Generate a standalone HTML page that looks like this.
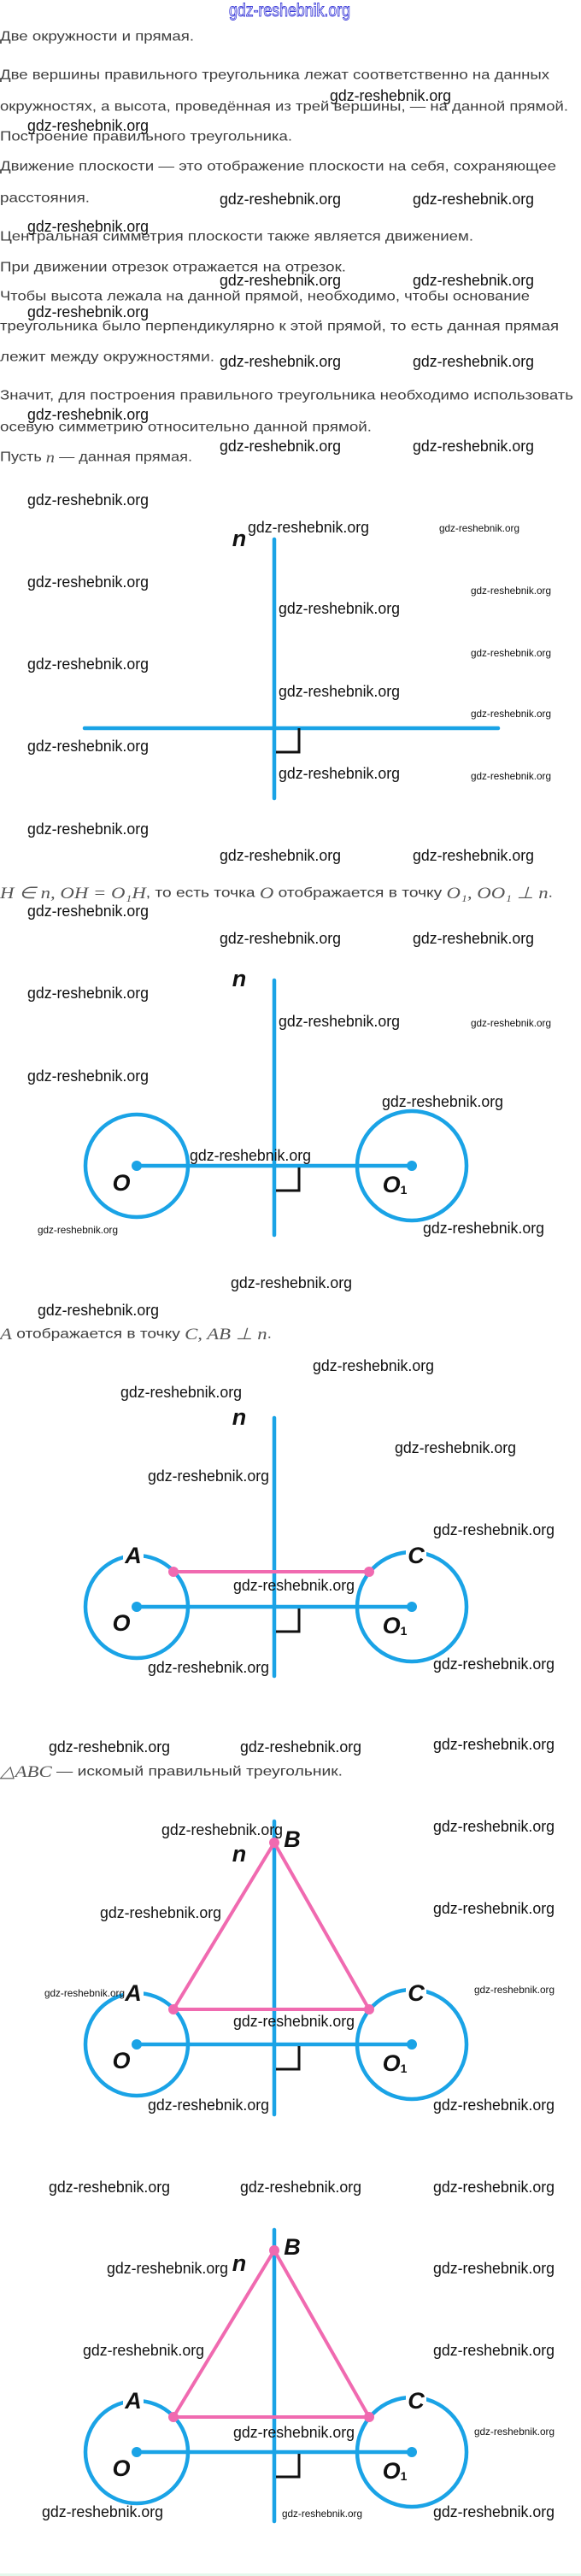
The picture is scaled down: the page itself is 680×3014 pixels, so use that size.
<!DOCTYPE html>
<html><head><meta charset="utf-8"><style>
html,body{margin:0;padding:0;background:#fff;}
svg{display:block;}
.t{font-family:"Liberation Sans","DejaVu Sans",sans-serif;font-size:16px;fill:#3d3d3d;}
.m{font-family:"Liberation Serif",serif;font-style:italic;fill:#555;}
.w{font-family:"Liberation Sans",sans-serif;font-size:18px;fill:#111;}
.ws{font-family:"Liberation Sans",sans-serif;font-size:12px;fill:#111;}
.lb{font-family:"Liberation Sans Narrow","Liberation Sans",sans-serif;font-weight:bold;font-style:italic;font-size:27px;fill:#111;}
.bl{stroke:#1aa3e6;stroke-width:4.5;fill:none;stroke-linecap:round;}
.pk{stroke:#f06ab0;stroke-width:4;fill:none;stroke-linecap:round;}
.ra{stroke:#111;stroke-width:3;fill:none;}
</style></head><body>
<svg width="680" height="3014" viewBox="0 0 680 3014" xmlns="http://www.w3.org/2000/svg">
<rect width="680" height="3014" fill="#fff"/>
<rect x="0" y="3011" width="680" height="3" fill="#e4f8ec"/>
<text x="268" y="19" font-family="Liberation Sans,sans-serif" font-size="21" fill="#fff" stroke="#3a3ad8" stroke-width="0.9" textLength="142" lengthAdjust="spacingAndGlyphs">gdz-reshebnik.org</text>

<g class="t" dominant-baseline="central">
<text x="0" y="43" textLength="227" lengthAdjust="spacingAndGlyphs">Две окружности и прямая.</text>
<text x="0" y="88" textLength="643" lengthAdjust="spacingAndGlyphs">Две вершины правильного треугольника лежат соответственно на данных</text>
<text x="0" y="125" textLength="665" lengthAdjust="spacingAndGlyphs">окружностях, а высота, проведённая из трей вершины, — на данной прямой.</text>
<text x="0" y="160" textLength="342" lengthAdjust="spacingAndGlyphs">Построение правильного треугольника.</text>
<text x="0" y="195" textLength="651" lengthAdjust="spacingAndGlyphs">Движение плоскости — это отображение плоскости на себя, сохраняющее</text>
<text x="0" y="232" textLength="105" lengthAdjust="spacingAndGlyphs">расстояния.</text>
<text x="0" y="277" textLength="554" lengthAdjust="spacingAndGlyphs">Центральная симметрия плоскости также является движением.</text>
<text x="0" y="313" textLength="405" lengthAdjust="spacingAndGlyphs">При движении отрезок отражается на отрезок.</text>
<text x="0" y="347" textLength="620" lengthAdjust="spacingAndGlyphs">Чтобы высота лежала на данной прямой, необходимо, чтобы основание</text>
<text x="0" y="382" textLength="654" lengthAdjust="spacingAndGlyphs">треугольника было перпендикулярно к этой прямой, то есть данная прямая</text>
<text x="0" y="418" textLength="251" lengthAdjust="spacingAndGlyphs">лежит между окружностями.</text>
<text x="0" y="463" textLength="671" lengthAdjust="spacingAndGlyphs">Значит, для построения правильного треугольника необходимо использовать</text>
<text x="0" y="500" textLength="435" lengthAdjust="spacingAndGlyphs">осевую симметрию относительно данной прямой.</text>
<text x="0" y="535" textLength="225" lengthAdjust="spacingAndGlyphs">Пусть <tspan class="m" font-size="18">n</tspan> — данная прямая.</text>
<text x="0" y="1045" textLength="647" lengthAdjust="spacingAndGlyphs"><tspan class="m" font-size="19">H ∈ n,  OH = O₁H</tspan>, то есть точка <tspan class="m" font-size="19">O</tspan> отображается в точку <tspan class="m" font-size="19">O₁, OO₁ ⊥ n</tspan>.</text>
<text x="0" y="1561" textLength="318" lengthAdjust="spacingAndGlyphs"><tspan class="m" font-size="19">A</tspan> отображается в точку <tspan class="m" font-size="19">C, AB ⊥ n</tspan>.</text>
<text x="0" y="2073" textLength="401" lengthAdjust="spacingAndGlyphs"><tspan class="m" font-size="19">△ABC</tspan> — искомый правильный треугольник.</text>
</g>

<!-- Figure 1 -->
<line class="bl" x1="321" y1="631" x2="321" y2="934"/>
<line class="bl" x1="99" y1="852" x2="583" y2="852"/>
<polyline class="ra" points="350,852 350,880 323,880"/>
<text class="lb" x="280" y="630" text-anchor="middle" dominant-baseline="central" font-family="Liberation Sans" font-size="26">n</text>

<!-- Figure 2 -->
<g>
<line class="bl" x1="321" y1="1147" x2="321" y2="1445"/>
<circle class="bl" cx="160" cy="1364" r="60"/>
<circle class="bl" cx="482" cy="1364" r="64"/>
<line class="bl" x1="160" y1="1364" x2="482" y2="1364"/>
<circle cx="160" cy="1364" r="6" fill="#1aa3e6"/><circle cx="482" cy="1364" r="6" fill="#1aa3e6"/>
<polyline class="ra" points="350,1366 350,1393 323,1393"/>
<text class="lb" x="280" y="1145" text-anchor="middle" dominant-baseline="central" font-family="Liberation Sans" font-size="26">n</text>
<text class="lb" x="142" y="1384" text-anchor="middle" dominant-baseline="central">O</text>
<text class="lb" x="462" y="1386" text-anchor="middle" dominant-baseline="central">O<tspan font-size="14" font-style="normal" dy="6">1</tspan></text>
</g>

<!-- Figures 3-5 -->
<g id="f3">
<line class="bl" x1="321" y1="1659" x2="321" y2="1961"/>
<circle class="bl" cx="160" cy="1880" r="60"/>
<circle class="bl" cx="482" cy="1880" r="64"/>
<line class="bl" x1="160" y1="1880" x2="482" y2="1880"/>
<circle cx="160" cy="1880" r="6" fill="#1aa3e6"/><circle cx="482" cy="1880" r="6" fill="#1aa3e6"/>
<polyline class="ra" points="350,1882 350,1909 323,1909"/>
<rect x="144" y="1806" width="24" height="28" fill="#fff"/>
<rect x="475" y="1806" width="24" height="28" fill="#fff"/>
<line class="pk" x1="203" y1="1839" x2="432" y2="1839"/>
<circle cx="203" cy="1839" r="6" fill="#f06ab0"/><circle cx="432" cy="1839" r="6" fill="#f06ab0"/>
<text class="lb" x="280" y="1658" text-anchor="middle" dominant-baseline="central" font-family="Liberation Sans" font-size="26">n</text>
<text class="lb" x="156" y="1820" text-anchor="middle" dominant-baseline="central">A</text>
<text class="lb" x="487" y="1820" text-anchor="middle" dominant-baseline="central">C</text>
<text class="lb" x="142" y="1899" text-anchor="middle" dominant-baseline="central">O</text>
<text class="lb" x="462" y="1902" text-anchor="middle" dominant-baseline="central">O<tspan font-size="14" font-style="normal" dy="6">1</tspan></text>
</g>

<g>
<line class="bl" x1="321" y1="2131" x2="321" y2="2474"/>
<circle class="bl" cx="160" cy="2392" r="60"/>
<circle class="bl" cx="482" cy="2392" r="64"/>
<line class="bl" x1="160" y1="2392" x2="482" y2="2392"/>
<circle cx="160" cy="2392" r="6" fill="#1aa3e6"/><circle cx="482" cy="2392" r="6" fill="#1aa3e6"/>
<polyline class="ra" points="350,2394 350,2421 323,2421"/>
<rect x="144" y="2318" width="24" height="28" fill="#fff"/>
<rect x="475" y="2318" width="24" height="28" fill="#fff"/>
<polyline class="pk" points="203,2351 321,2156 432,2351 203,2351" stroke-linejoin="round"/>
<circle cx="203" cy="2351" r="6" fill="#f06ab0"/><circle cx="432" cy="2351" r="6" fill="#f06ab0"/><circle cx="321" cy="2156" r="6" fill="#f06ab0"/>
<text class="lb" x="280" y="2169" text-anchor="middle" dominant-baseline="central" font-family="Liberation Sans" font-size="26">n</text>
<text class="lb" x="342" y="2152" text-anchor="middle" dominant-baseline="central">B</text>
<text class="lb" x="156" y="2332" text-anchor="middle" dominant-baseline="central">A</text>
<text class="lb" x="487" y="2332" text-anchor="middle" dominant-baseline="central">C</text>
<text class="lb" x="142" y="2411" text-anchor="middle" dominant-baseline="central">O</text>
<text class="lb" x="462" y="2414" text-anchor="middle" dominant-baseline="central">O<tspan font-size="14" font-style="normal" dy="6">1</tspan></text>
</g>

<g>
<line class="bl" x1="321" y1="2609" x2="321" y2="2950"/>
<circle class="bl" cx="160" cy="2869" r="60"/>
<circle class="bl" cx="482" cy="2869" r="64"/>
<line class="bl" x1="160" y1="2869" x2="482" y2="2869"/>
<circle cx="160" cy="2869" r="6" fill="#1aa3e6"/><circle cx="482" cy="2869" r="6" fill="#1aa3e6"/>
<polyline class="ra" points="350,2871 350,2898 323,2898"/>
<rect x="144" y="2795" width="24" height="28" fill="#fff"/>
<rect x="475" y="2795" width="24" height="28" fill="#fff"/>
<polyline class="pk" points="203,2828 321,2633 432,2828 203,2828" stroke-linejoin="round"/>
<circle cx="203" cy="2828" r="6" fill="#f06ab0"/><circle cx="432" cy="2828" r="6" fill="#f06ab0"/><circle cx="321" cy="2633" r="6" fill="#f06ab0"/>
<text class="lb" x="280" y="2648" text-anchor="middle" dominant-baseline="central" font-family="Liberation Sans" font-size="26">n</text>
<text class="lb" x="342" y="2629" text-anchor="middle" dominant-baseline="central">B</text>
<text class="lb" x="156" y="2809" text-anchor="middle" dominant-baseline="central">A</text>
<text class="lb" x="487" y="2809" text-anchor="middle" dominant-baseline="central">C</text>
<text class="lb" x="142" y="2888" text-anchor="middle" dominant-baseline="central">O</text>
<text class="lb" x="462" y="2891" text-anchor="middle" dominant-baseline="central">O<tspan font-size="14" font-style="normal" dy="6">1</tspan></text>
</g>

<!-- Watermarks large -->
<g class="w" dominant-baseline="central">
<text x="386" y="112" textLength="142" lengthAdjust="spacingAndGlyphs">gdz-reshebnik.org</text>
<text x="32" y="147" textLength="142" lengthAdjust="spacingAndGlyphs">gdz-reshebnik.org</text>
<text x="257" y="233" textLength="142" lengthAdjust="spacingAndGlyphs">gdz-reshebnik.org</text>
<text x="483" y="233" textLength="142" lengthAdjust="spacingAndGlyphs">gdz-reshebnik.org</text>
<text x="32" y="265" textLength="142" lengthAdjust="spacingAndGlyphs">gdz-reshebnik.org</text>
<text x="257" y="328" textLength="142" lengthAdjust="spacingAndGlyphs">gdz-reshebnik.org</text>
<text x="483" y="328" textLength="142" lengthAdjust="spacingAndGlyphs">gdz-reshebnik.org</text>
<text x="32" y="365" textLength="142" lengthAdjust="spacingAndGlyphs">gdz-reshebnik.org</text>
<text x="257" y="423" textLength="142" lengthAdjust="spacingAndGlyphs">gdz-reshebnik.org</text>
<text x="483" y="423" textLength="142" lengthAdjust="spacingAndGlyphs">gdz-reshebnik.org</text>
<text x="32" y="485" textLength="142" lengthAdjust="spacingAndGlyphs">gdz-reshebnik.org</text>
<text x="257" y="522" textLength="142" lengthAdjust="spacingAndGlyphs">gdz-reshebnik.org</text>
<text x="483" y="522" textLength="142" lengthAdjust="spacingAndGlyphs">gdz-reshebnik.org</text>
<text x="32" y="585" textLength="142" lengthAdjust="spacingAndGlyphs">gdz-reshebnik.org</text>
<text x="290" y="617" textLength="142" lengthAdjust="spacingAndGlyphs">gdz-reshebnik.org</text>
<text x="32" y="681" textLength="142" lengthAdjust="spacingAndGlyphs">gdz-reshebnik.org</text>
<text x="326" y="712" textLength="142" lengthAdjust="spacingAndGlyphs">gdz-reshebnik.org</text>
<text x="32" y="777" textLength="142" lengthAdjust="spacingAndGlyphs">gdz-reshebnik.org</text>
<text x="326" y="809" textLength="142" lengthAdjust="spacingAndGlyphs">gdz-reshebnik.org</text>
<text x="32" y="873" textLength="142" lengthAdjust="spacingAndGlyphs">gdz-reshebnik.org</text>
<text x="326" y="905" textLength="142" lengthAdjust="spacingAndGlyphs">gdz-reshebnik.org</text>
<text x="32" y="970" textLength="142" lengthAdjust="spacingAndGlyphs">gdz-reshebnik.org</text>
<text x="257" y="1001" textLength="142" lengthAdjust="spacingAndGlyphs">gdz-reshebnik.org</text>
<text x="483" y="1001" textLength="142" lengthAdjust="spacingAndGlyphs">gdz-reshebnik.org</text>
<text x="32" y="1066" textLength="142" lengthAdjust="spacingAndGlyphs">gdz-reshebnik.org</text>
<text x="257" y="1098" textLength="142" lengthAdjust="spacingAndGlyphs">gdz-reshebnik.org</text>
<text x="483" y="1098" textLength="142" lengthAdjust="spacingAndGlyphs">gdz-reshebnik.org</text>
<text x="32" y="1162" textLength="142" lengthAdjust="spacingAndGlyphs">gdz-reshebnik.org</text>
<text x="326" y="1195" textLength="142" lengthAdjust="spacingAndGlyphs">gdz-reshebnik.org</text>
<text x="32" y="1259" textLength="142" lengthAdjust="spacingAndGlyphs">gdz-reshebnik.org</text>
<text x="447" y="1289" textLength="142" lengthAdjust="spacingAndGlyphs">gdz-reshebnik.org</text>
<text x="222" y="1352" textLength="142" lengthAdjust="spacingAndGlyphs">gdz-reshebnik.org</text>
<text x="495" y="1437" textLength="142" lengthAdjust="spacingAndGlyphs">gdz-reshebnik.org</text>
<text x="270" y="1501" textLength="142" lengthAdjust="spacingAndGlyphs">gdz-reshebnik.org</text>
<text x="44" y="1533" textLength="142" lengthAdjust="spacingAndGlyphs">gdz-reshebnik.org</text>
<text x="366" y="1598" textLength="142" lengthAdjust="spacingAndGlyphs">gdz-reshebnik.org</text>
<text x="141" y="1629" textLength="142" lengthAdjust="spacingAndGlyphs">gdz-reshebnik.org</text>
<text x="462" y="1694" textLength="142" lengthAdjust="spacingAndGlyphs">gdz-reshebnik.org</text>
<text x="173" y="1727" textLength="142" lengthAdjust="spacingAndGlyphs">gdz-reshebnik.org</text>
<text x="507" y="1790" textLength="142" lengthAdjust="spacingAndGlyphs">gdz-reshebnik.org</text>
<text x="273" y="1855" textLength="142" lengthAdjust="spacingAndGlyphs">gdz-reshebnik.org</text>
<text x="173" y="1951" textLength="142" lengthAdjust="spacingAndGlyphs">gdz-reshebnik.org</text>
<text x="507" y="1947" textLength="142" lengthAdjust="spacingAndGlyphs">gdz-reshebnik.org</text>
<text x="57" y="2044" textLength="142" lengthAdjust="spacingAndGlyphs">gdz-reshebnik.org</text>
<text x="281" y="2044" textLength="142" lengthAdjust="spacingAndGlyphs">gdz-reshebnik.org</text>
<text x="507" y="2041" textLength="142" lengthAdjust="spacingAndGlyphs">gdz-reshebnik.org</text>
<text x="189" y="2141" textLength="142" lengthAdjust="spacingAndGlyphs">gdz-reshebnik.org</text>
<text x="507" y="2137" textLength="142" lengthAdjust="spacingAndGlyphs">gdz-reshebnik.org</text>
<text x="117" y="2238" textLength="142" lengthAdjust="spacingAndGlyphs">gdz-reshebnik.org</text>
<text x="507" y="2233" textLength="142" lengthAdjust="spacingAndGlyphs">gdz-reshebnik.org</text>
<text x="273" y="2365" textLength="142" lengthAdjust="spacingAndGlyphs">gdz-reshebnik.org</text>
<text x="173" y="2463" textLength="142" lengthAdjust="spacingAndGlyphs">gdz-reshebnik.org</text>
<text x="507" y="2463" textLength="142" lengthAdjust="spacingAndGlyphs">gdz-reshebnik.org</text>
<text x="57" y="2559" textLength="142" lengthAdjust="spacingAndGlyphs">gdz-reshebnik.org</text>
<text x="281" y="2559" textLength="142" lengthAdjust="spacingAndGlyphs">gdz-reshebnik.org</text>
<text x="507" y="2559" textLength="142" lengthAdjust="spacingAndGlyphs">gdz-reshebnik.org</text>
<text x="125" y="2654" textLength="142" lengthAdjust="spacingAndGlyphs">gdz-reshebnik.org</text>
<text x="507" y="2654" textLength="142" lengthAdjust="spacingAndGlyphs">gdz-reshebnik.org</text>
<text x="97" y="2750" textLength="142" lengthAdjust="spacingAndGlyphs">gdz-reshebnik.org</text>
<text x="507" y="2750" textLength="142" lengthAdjust="spacingAndGlyphs">gdz-reshebnik.org</text>
<text x="273" y="2846" textLength="142" lengthAdjust="spacingAndGlyphs">gdz-reshebnik.org</text>
<text x="49" y="2939" textLength="142" lengthAdjust="spacingAndGlyphs">gdz-reshebnik.org</text>
<text x="507" y="2939" textLength="142" lengthAdjust="spacingAndGlyphs">gdz-reshebnik.org</text>
</g>
<!-- Watermarks small -->
<g class="ws" dominant-baseline="central">
<text x="514" y="618" textLength="94" lengthAdjust="spacingAndGlyphs">gdz-reshebnik.org</text>
<text x="551" y="691" textLength="94" lengthAdjust="spacingAndGlyphs">gdz-reshebnik.org</text>
<text x="551" y="764" textLength="94" lengthAdjust="spacingAndGlyphs">gdz-reshebnik.org</text>
<text x="551" y="835" textLength="94" lengthAdjust="spacingAndGlyphs">gdz-reshebnik.org</text>
<text x="551" y="908" textLength="94" lengthAdjust="spacingAndGlyphs">gdz-reshebnik.org</text>
<text x="551" y="1197" textLength="94" lengthAdjust="spacingAndGlyphs">gdz-reshebnik.org</text>
<text x="44" y="1439" textLength="94" lengthAdjust="spacingAndGlyphs">gdz-reshebnik.org</text>
<text x="52" y="2332" textLength="94" lengthAdjust="spacingAndGlyphs">gdz-reshebnik.org</text>
<text x="555" y="2328" textLength="94" lengthAdjust="spacingAndGlyphs">gdz-reshebnik.org</text>
<text x="555" y="2845" textLength="94" lengthAdjust="spacingAndGlyphs">gdz-reshebnik.org</text>
<text x="330" y="2941" textLength="94" lengthAdjust="spacingAndGlyphs">gdz-reshebnik.org</text>
</g>
</svg>
</body></html>
